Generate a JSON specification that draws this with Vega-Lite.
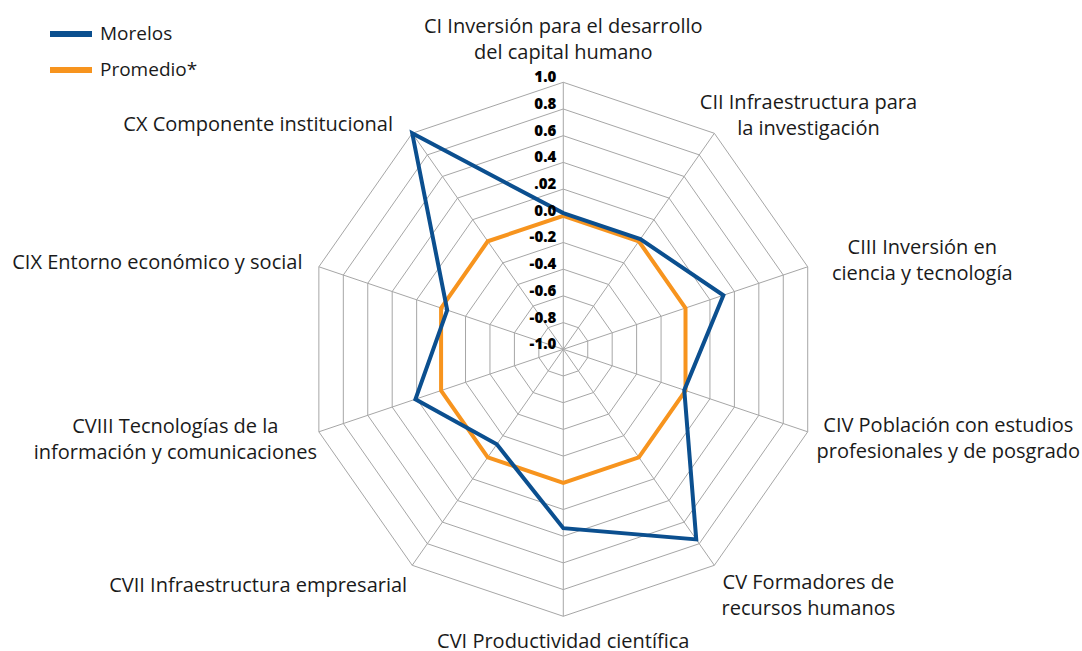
{
  "$schema": "https://vega.github.io/schema/vega-lite/v6.json",
  "width": 1082,
  "height": 651,
  "padding": 0,
  "autosize": "none",
  "background": "white",
  "config": {"view": {"stroke": null}, "font": "Open Sans"},
  "datasets": {
    "axes": [
      {"idx": 0, "axis": "CI", "label": "CI Inversión para el desarrollo\ndel capital humano", "levels": [-0.8, -0.6, -0.4, -0.2, 0, 0.2, 0.4, 0.6, 0.8, 1.0]},
      {"idx": 1, "axis": "CII", "label": "CII Infraestructura para\nla investigación", "levels": [-0.8, -0.6, -0.4, -0.2, 0, 0.2, 0.4, 0.6, 0.8, 1.0]},
      {"idx": 2, "axis": "CIII", "label": "CIII Inversión en\nciencia y tecnología", "levels": [-0.8, -0.6, -0.4, -0.2, 0, 0.2, 0.4, 0.6, 0.8, 1.0]},
      {"idx": 3, "axis": "CIV", "label": "CIV Población con estudios\nprofesionales y de posgrado", "levels": [-0.8, -0.6, -0.4, -0.2, 0, 0.2, 0.4, 0.6, 0.8, 1.0]},
      {"idx": 4, "axis": "CV", "label": "CV Formadores de\nrecursos humanos", "levels": [-0.8, -0.6, -0.4, -0.2, 0, 0.2, 0.4, 0.6, 0.8, 1.0]},
      {"idx": 5, "axis": "CVI", "label": "CVI Productividad científica", "levels": [-0.8, -0.6, -0.4, -0.2, 0, 0.2, 0.4, 0.6, 0.8, 1.0]},
      {"idx": 6, "axis": "CVII", "label": "CVII Infraestructura empresarial", "levels": [-0.8, -0.6, -0.4, -0.2, 0, 0.2, 0.4, 0.6, 0.8, 1.0]},
      {"idx": 7, "axis": "CVIII", "label": "CVIII Tecnologías de la\ninformación y comunicaciones", "levels": [-0.8, -0.6, -0.4, -0.2, 0, 0.2, 0.4, 0.6, 0.8, 1.0]},
      {"idx": 8, "axis": "CIX", "label": "CIX Entorno económico y social", "levels": [-0.8, -0.6, -0.4, -0.2, 0, 0.2, 0.4, 0.6, 0.8, 1.0]},
      {"idx": 9, "axis": "CX", "label": "CX Componente institucional", "levels": [-0.8, -0.6, -0.4, -0.2, 0, 0.2, 0.4, 0.6, 0.8, 1.0]}
    ],
    "scores": [
      {"series": "Promedio*", "axis": "CI", "idx": 0, "value": 0.0},
      {"series": "Promedio*", "axis": "CII", "idx": 1, "value": 0.0},
      {"series": "Promedio*", "axis": "CIII", "idx": 2, "value": 0.0},
      {"series": "Promedio*", "axis": "CIV", "idx": 3, "value": 0.0},
      {"series": "Promedio*", "axis": "CV", "idx": 4, "value": 0.0},
      {"series": "Promedio*", "axis": "CVI", "idx": 5, "value": 0.0},
      {"series": "Promedio*", "axis": "CVII", "idx": 6, "value": 0.0},
      {"series": "Promedio*", "axis": "CVIII", "idx": 7, "value": 0.0},
      {"series": "Promedio*", "axis": "CIX", "idx": 8, "value": 0.0},
      {"series": "Promedio*", "axis": "CX", "idx": 9, "value": 0.0},
      {"series": "Morelos", "axis": "CI", "idx": 0, "value": 0.02},
      {"series": "Morelos", "axis": "CII", "idx": 1, "value": 0.02},
      {"series": "Morelos", "axis": "CIII", "idx": 2, "value": 0.31},
      {"series": "Morelos", "axis": "CIV", "idx": 3, "value": -0.01},
      {"series": "Morelos", "axis": "CV", "idx": 4, "value": 0.76},
      {"series": "Morelos", "axis": "CVI", "idx": 5, "value": 0.34},
      {"series": "Morelos", "axis": "CVII", "idx": 6, "value": -0.12},
      {"series": "Morelos", "axis": "CVIII", "idx": 7, "value": 0.21},
      {"series": "Morelos", "axis": "CIX", "idx": 8, "value": -0.05},
      {"series": "Morelos", "axis": "CX", "idx": 9, "value": 1.0}
    ],
    "ticks": [
      {"value": 1.0, "label": "1.0"},
      {"value": 0.8, "label": "0.8"},
      {"value": 0.6, "label": "0.6"},
      {"value": 0.4, "label": "0.4"},
      {"value": 0.2, "label": ".02"},
      {"value": 0.0, "label": "0.0"},
      {"value": -0.2, "label": "-0.2"},
      {"value": -0.4, "label": "-0.4"},
      {"value": -0.6, "label": "-0.6"},
      {"value": -0.8, "label": "-0.8"},
      {"value": -1.0, "label": "-1.0"}
    ]
  },
  "layer": [
    {
      "data": {"name": "axes"},
      "transform": [
        {"flatten": ["levels"], "as": ["level"]},
        {"calculate": "(datum.level + 1) / 2 * sin(datum.idx * PI / 5)", "as": "px"},
        {"calculate": "(datum.level + 1) / 2 * cos(datum.idx * PI / 5)", "as": "py"}
      ],
      "mark": {"type": "line", "interpolate": "linear-closed", "stroke": "#a6a6a6", "strokeWidth": 1},
      "encoding": {
        "x": {"field": "px", "type": "quantitative", "scale": {"domain": [-2.1918, 2.0183], "nice": false, "zero": false}, "axis": null},
        "y": {"field": "py", "type": "quantitative", "scale": {"domain": [-1.13, 1.3082], "nice": false, "zero": false}, "axis": null},
        "detail": {"field": "level", "type": "nominal"},
        "order": {"field": "idx", "type": "quantitative"}
      }
    },
    {
      "data": {"name": "axes"},
      "transform": [
        {"calculate": "0", "as": "cx"},
        {"calculate": "0", "as": "cy"},
        {"calculate": "sin(datum.idx * PI / 5)", "as": "ox"},
        {"calculate": "cos(datum.idx * PI / 5)", "as": "oy"}
      ],
      "mark": {"type": "rule", "stroke": "#a6a6a6", "strokeWidth": 1},
      "encoding": {
        "x": {"field": "cx", "type": "quantitative", "scale": {"domain": [-2.1918, 2.0183], "nice": false, "zero": false}, "axis": null},
        "y": {"field": "cy", "type": "quantitative", "scale": {"domain": [-1.13, 1.3082], "nice": false, "zero": false}, "axis": null},
        "x2": {"field": "ox"},
        "y2": {"field": "oy"}
      }
    },
    {
      "data": {"name": "scores"},
      "transform": [
        {"calculate": "(datum.value + 1) / 2 * sin(datum.idx * PI / 5)", "as": "px"},
        {"calculate": "(datum.value + 1) / 2 * cos(datum.idx * PI / 5)", "as": "py"}
      ],
      "mark": {"type": "line", "interpolate": "linear-closed", "strokeWidth": 4, "strokeJoin": "miter", "strokeMiterLimit": 20},
      "encoding": {
        "x": {"field": "px", "type": "quantitative", "scale": {"domain": [-2.1918, 2.0183], "nice": false, "zero": false}, "axis": null},
        "y": {"field": "py", "type": "quantitative", "scale": {"domain": [-1.13, 1.3082], "nice": false, "zero": false}, "axis": null},
        "order": {"field": "idx", "type": "quantitative"},
        "color": {
          "field": "series",
          "type": "nominal",
          "scale": {"domain": ["Morelos", "Promedio*"], "range": ["#0b4f8f", "#f7941e"]},
          "legend": {
            "orient": "none",
            "legendX": 47,
            "legendY": 10,
            "title": null,
            "padding": 0,
            "symbolType": "stroke",
            "symbolSize": 1764,
            "symbolStrokeWidth": 6,
            "labelFont": "Open Sans",
            "labelFontSize": 19,
            "labelColor": "#1a1a1a",
            "labelOffset": 5,
            "rowPadding": 0
          }
        }
      }
    },
    {
      "data": {"name": "ticks"},
      "transform": [
        {"calculate": "0", "as": "cx"},
        {"calculate": "(datum.value + 1) / 2", "as": "py"}
      ],
      "mark": {"type": "text", "align": "right", "baseline": "middle", "dx": -7, "dy": -5, "fontSize": 15, "fontWeight": 800, "font": "Open Sans", "color": "#000000"},
      "encoding": {
        "x": {"field": "cx", "type": "quantitative", "scale": {"domain": [-2.1918, 2.0183], "nice": false, "zero": false}, "axis": null},
        "y": {"field": "py", "type": "quantitative", "scale": {"domain": [-1.13, 1.3082], "nice": false, "zero": false}, "axis": null},
        "text": {"field": "label", "type": "nominal"}
      }
    },
    {
      "data": {"name": "axes"},
      "transform": [
        {"filter": "datum.idx == 0"},
        {"calculate": "1.08 * sin(datum.idx * PI / 5)", "as": "lx"},
        {"calculate": "1.08 * cos(datum.idx * PI / 5)", "as": "ly"}
      ],
      "mark": {"type": "text", "align": "center", "baseline": "middle", "dy": -34, "lineBreak": "\n", "lineHeight": 26, "fontSize": 20, "font": "Open Sans", "color": "#1a1a1a"},
      "encoding": {
        "x": {"field": "lx", "type": "quantitative", "scale": {"domain": [-2.1918, 2.0183], "nice": false, "zero": false}, "axis": null},
        "y": {"field": "ly", "type": "quantitative", "scale": {"domain": [-1.13, 1.3082], "nice": false, "zero": false}, "axis": null},
        "text": {"field": "label", "type": "nominal"}
      }
    },
    {
      "data": {"name": "axes"},
      "transform": [
        {"filter": "datum.idx == 5"},
        {"calculate": "1.08 * sin(datum.idx * PI / 5)", "as": "lx"},
        {"calculate": "1.08 * cos(datum.idx * PI / 5)", "as": "ly"}
      ],
      "mark": {"type": "text", "align": "center", "baseline": "middle", "dy": 4, "lineBreak": "\n", "lineHeight": 26, "fontSize": 20, "font": "Open Sans", "color": "#1a1a1a"},
      "encoding": {
        "x": {"field": "lx", "type": "quantitative", "scale": {"domain": [-2.1918, 2.0183], "nice": false, "zero": false}, "axis": null},
        "y": {"field": "ly", "type": "quantitative", "scale": {"domain": [-1.13, 1.3082], "nice": false, "zero": false}, "axis": null},
        "text": {"field": "label", "type": "nominal"}
      }
    },
    {
      "data": {"name": "axes"},
      "transform": [
        {"filter": "datum.idx == 1"},
        {"calculate": "1.08 * sin(datum.idx * PI / 5)", "as": "lx"},
        {"calculate": "1.08 * cos(datum.idx * PI / 5)", "as": "ly"}
      ],
      "mark": {"type": "text", "align": "center", "baseline": "middle", "dx": 82, "dy": -13, "lineBreak": "\n", "lineHeight": 26, "fontSize": 20, "font": "Open Sans", "color": "#1a1a1a"},
      "encoding": {
        "x": {"field": "lx", "type": "quantitative", "scale": {"domain": [-2.1918, 2.0183], "nice": false, "zero": false}, "axis": null},
        "y": {"field": "ly", "type": "quantitative", "scale": {"domain": [-1.13, 1.3082], "nice": false, "zero": false}, "axis": null},
        "text": {"field": "label", "type": "nominal"}
      }
    },
    {
      "data": {"name": "axes"},
      "transform": [
        {"filter": "datum.idx == 4"},
        {"calculate": "1.08 * sin(datum.idx * PI / 5)", "as": "lx"},
        {"calculate": "1.08 * cos(datum.idx * PI / 5)", "as": "ly"}
      ],
      "mark": {"type": "text", "align": "center", "baseline": "middle", "dx": 82, "dy": 0, "lineBreak": "\n", "lineHeight": 26, "fontSize": 20, "font": "Open Sans", "color": "#1a1a1a"},
      "encoding": {
        "x": {"field": "lx", "type": "quantitative", "scale": {"domain": [-2.1918, 2.0183], "nice": false, "zero": false}, "axis": null},
        "y": {"field": "ly", "type": "quantitative", "scale": {"domain": [-1.13, 1.3082], "nice": false, "zero": false}, "axis": null},
        "text": {"field": "label", "type": "nominal"}
      }
    },
    {
      "data": {"name": "axes"},
      "transform": [
        {"filter": "datum.idx == 2"},
        {"calculate": "1.08 * sin(datum.idx * PI / 5)", "as": "lx"},
        {"calculate": "1.08 * cos(datum.idx * PI / 5)", "as": "ly"}
      ],
      "mark": {"type": "text", "align": "center", "baseline": "middle", "dx": 95, "dy": -12, "lineBreak": "\n", "lineHeight": 26, "fontSize": 20, "font": "Open Sans", "color": "#1a1a1a"},
      "encoding": {
        "x": {"field": "lx", "type": "quantitative", "scale": {"domain": [-2.1918, 2.0183], "nice": false, "zero": false}, "axis": null},
        "y": {"field": "ly", "type": "quantitative", "scale": {"domain": [-1.13, 1.3082], "nice": false, "zero": false}, "axis": null},
        "text": {"field": "label", "type": "nominal"}
      }
    },
    {
      "data": {"name": "axes"},
      "transform": [
        {"filter": "datum.idx == 3"},
        {"calculate": "1.08 * sin(datum.idx * PI / 5)", "as": "lx"},
        {"calculate": "1.08 * cos(datum.idx * PI / 5)", "as": "ly"}
      ],
      "mark": {"type": "text", "align": "center", "baseline": "middle", "dx": 121, "dy": -12, "lineBreak": "\n", "lineHeight": 26, "fontSize": 20, "font": "Open Sans", "color": "#1a1a1a"},
      "encoding": {
        "x": {"field": "lx", "type": "quantitative", "scale": {"domain": [-2.1918, 2.0183], "nice": false, "zero": false}, "axis": null},
        "y": {"field": "ly", "type": "quantitative", "scale": {"domain": [-1.13, 1.3082], "nice": false, "zero": false}, "axis": null},
        "text": {"field": "label", "type": "nominal"}
      }
    },
    {
      "data": {"name": "axes"},
      "transform": [
        {"filter": "datum.idx == 7"},
        {"calculate": "1.08 * sin(datum.idx * PI / 5)", "as": "lx"},
        {"calculate": "1.08 * cos(datum.idx * PI / 5)", "as": "ly"}
      ],
      "mark": {"type": "text", "align": "center", "baseline": "middle", "dx": -124, "dy": -11, "lineBreak": "\n", "lineHeight": 26, "fontSize": 20, "font": "Open Sans", "color": "#1a1a1a"},
      "encoding": {
        "x": {"field": "lx", "type": "quantitative", "scale": {"domain": [-2.1918, 2.0183], "nice": false, "zero": false}, "axis": null},
        "y": {"field": "ly", "type": "quantitative", "scale": {"domain": [-1.13, 1.3082], "nice": false, "zero": false}, "axis": null},
        "text": {"field": "label", "type": "nominal"}
      }
    },
    {
      "data": {"name": "axes"},
      "transform": [
        {"filter": "datum.idx == 6 || datum.idx == 8"},
        {"calculate": "1.08 * sin(datum.idx * PI / 5)", "as": "lx"},
        {"calculate": "1.08 * cos(datum.idx * PI / 5)", "as": "ly"}
      ],
      "mark": {"type": "text", "align": "center", "baseline": "middle", "dx": -142, "dy": 3, "lineBreak": "\n", "lineHeight": 26, "fontSize": 20, "font": "Open Sans", "color": "#1a1a1a"},
      "encoding": {
        "x": {"field": "lx", "type": "quantitative", "scale": {"domain": [-2.1918, 2.0183], "nice": false, "zero": false}, "axis": null},
        "y": {"field": "ly", "type": "quantitative", "scale": {"domain": [-1.13, 1.3082], "nice": false, "zero": false}, "axis": null},
        "text": {"field": "label", "type": "nominal"}
      }
    },
    {
      "data": {"name": "axes"},
      "transform": [
        {"filter": "datum.idx == 9"},
        {"calculate": "1.08 * sin(datum.idx * PI / 5)", "as": "lx"},
        {"calculate": "1.08 * cos(datum.idx * PI / 5)", "as": "ly"}
      ],
      "mark": {"type": "text", "align": "center", "baseline": "middle", "dx": -142, "dy": 9, "lineBreak": "\n", "lineHeight": 26, "fontSize": 20, "font": "Open Sans", "color": "#1a1a1a"},
      "encoding": {
        "x": {"field": "lx", "type": "quantitative", "scale": {"domain": [-2.1918, 2.0183], "nice": false, "zero": false}, "axis": null},
        "y": {"field": "ly", "type": "quantitative", "scale": {"domain": [-1.13, 1.3082], "nice": false, "zero": false}, "axis": null},
        "text": {"field": "label", "type": "nominal"}
      }
    }
  ]
}
